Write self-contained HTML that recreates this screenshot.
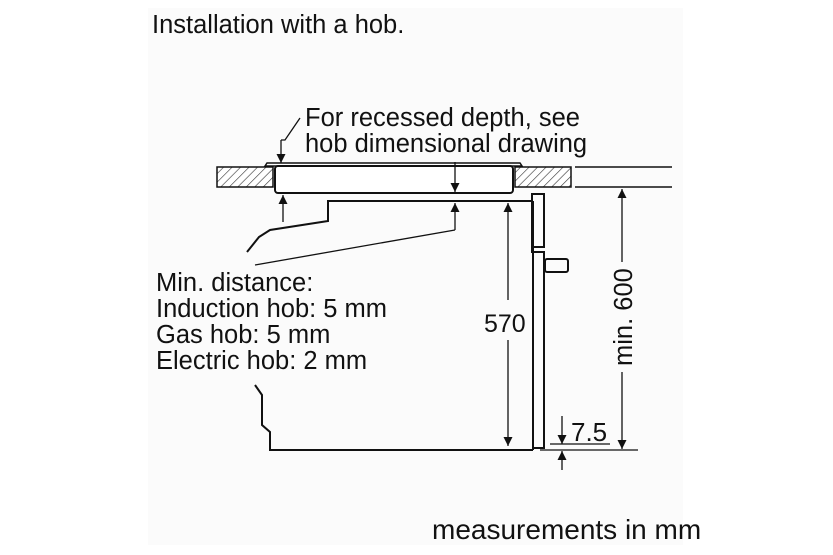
<!DOCTYPE html>
<html><head><meta charset="utf-8"><style>
html,body{margin:0;padding:0;background:#fff;}
svg{display:block;}
text{font-family:"Liberation Sans",Arial,sans-serif;fill:#111;}
</style></head><body>
<svg width="833" height="555" viewBox="0 0 833 555" xmlns="http://www.w3.org/2000/svg">
<defs>
<pattern id="h" width="6" height="6" patternUnits="userSpaceOnUse" patternTransform="rotate(45)">
<rect width="6" height="6" fill="#fff"/><line x1="0" y1="0" x2="0" y2="6" stroke="#333" stroke-width="1.2"/>
</pattern>
<marker id="a" viewBox="0 0 10 10" refX="10" refY="5" markerWidth="13" markerHeight="9" orient="auto" markerUnits="userSpaceOnUse">
<path d="M0,0 L10,5 L0,10 z" fill="#111"/></marker>
</defs>
<rect x="148" y="8" width="535" height="537" fill="#fbfbfb"/>
<text x="152" y="33" font-size="25.5">Installation with a hob.</text>
<text x="305" y="126" font-size="25.5">For recessed depth, see</text>
<text x="305" y="152" font-size="25.5">hob dimensional drawing</text>
<g font-size="25.5">
<text x="156" y="291">Min. distance:</text>
<text x="156" y="317">Induction hob: 5 mm</text>
<text x="156" y="343">Gas hob: 5 mm</text>
<text x="156" y="369">Electric hob: 2 mm</text>
</g>
<text x="432" y="539" font-size="28">measurements in mm</text>
<g stroke="#111" fill="none" stroke-width="2">
<rect x="217" y="167" width="56" height="20" fill="url(#h)" stroke-width="1.5"/>
<rect x="515" y="167" width="56" height="20" fill="url(#h)" stroke-width="1.5"/>
<line x1="575" y1="167" x2="672" y2="167" stroke-width="1.5"/>
<line x1="575" y1="187" x2="672" y2="187" stroke-width="1.5"/>
<path d="M265,166 L267,163 L520,163 L522,166 Z" stroke-width="1.5" fill="#fff"/>
<rect x="275" y="166" width="238" height="27" rx="3" fill="#fff"/>
<path d="M247,252 L259,237 L270,230 L328,221 L328,201 L533,201"/>
<path d="M255,385 L262,395 L262,425 L270,432 L270,450 L533,450"/>
<path d="M533,201 L533,450"/>
<rect x="532" y="194" width="12" height="53"/>
<path d="M532,247 L532,252 L544,252 L544,448 L534,448"/>
<rect x="545" y="259" width="23" height="13" rx="2"/>
</g>
<g stroke="#111" stroke-width="1.3" fill="none">
<path d="M300,118 L285,140 L281,140" />
<line x1="281" y1="140" x2="281" y2="163" marker-end="url(#a)"/>
<line x1="283" y1="222" x2="283" y2="195" marker-end="url(#a)"/>
<line x1="455" y1="162" x2="455" y2="192" marker-end="url(#a)"/>
<line x1="455" y1="230" x2="455" y2="203" marker-end="url(#a)"/>
<line x1="455" y1="230" x2="255" y2="265"/>
<line x1="508" y1="300" x2="508" y2="203" marker-end="url(#a)"/>
<line x1="508" y1="340" x2="508" y2="446" marker-end="url(#a)"/>
<line x1="622" y1="262" x2="622" y2="189" marker-end="url(#a)"/>
<line x1="622" y1="372" x2="622" y2="449" marker-end="url(#a)"/>
<line x1="540" y1="450" x2="638" y2="450"/>
<line x1="550" y1="444" x2="610" y2="444"/>
<line x1="562" y1="416" x2="562" y2="444" marker-end="url(#a)"/>
<line x1="562" y1="470" x2="562" y2="451" marker-end="url(#a)"/>
</g>
<text x="484" y="332" font-size="25">570</text>
<text transform="translate(632,366) rotate(-90)" font-size="25.5">min. 600</text>
<text x="571" y="441" font-size="26">7.5</text>
</svg>
</body></html>
